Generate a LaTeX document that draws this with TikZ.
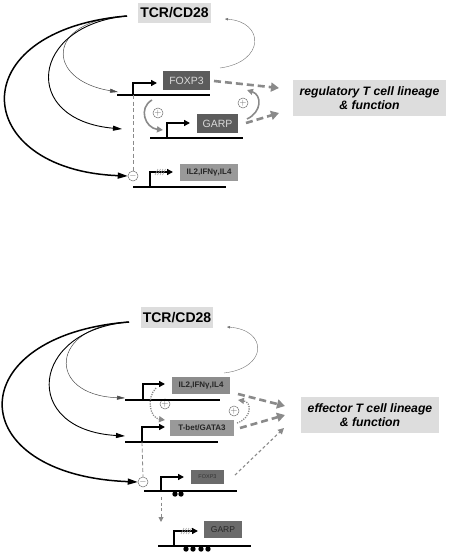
\documentclass[tikz,border=0pt]{standalone}
\usepackage{fontspec}
\setmainfont{Liberation Sans}
\usetikzlibrary{arrows.meta}
\definecolor{boxlight}{HTML}{DDDDDD}
\definecolor{boxdark}{HTML}{5C5C5C}
\definecolor{boxdim}{HTML}{6B6B6B}
\definecolor{boxmid}{HTML}{999999}
\definecolor{linegray}{HTML}{8A8A8A}
\tikzset{
  tcbox/.style={fill=boxlight, inner sep=0pt, font=\bfseries\fontsize{14}{14}\selectfont},
  fatebox/.style={fill=boxlight, inner sep=0pt, align=center, font=\bfseries\itshape\fontsize{12.2}{14}\selectfont},
  genedark/.style={fill=boxdark, text=black!15, inner sep=0pt, font=\fontsize{10.5}{10.5}\selectfont},
  genedim/.style={fill=boxdim, text=black!80, inner sep=0pt},
  genemid/.style={fill=boxmid, text=black!85, inner sep=0pt, font=\bfseries\fontsize{8}{8}\selectfont},
  dnaline/.style={line width=1.6pt, draw=black},
  promo/.style={line width=1.4pt, draw=black, -{Triangle[length=6pt,width=6pt]}},
  sigthick/.style={line width=1.5pt, draw=black, -{Triangle[length=10pt,width=6pt]}},
  sigmid/.style={line width=0.9pt, draw=black, -{Triangle[length=9pt,width=5pt]}},
  sigthin/.style={line width=0.5pt, draw=black!70, -{Triangle[length=8pt,width=4pt]}},
  loopline/.style={line width=0.4pt, draw=black!55, -{Triangle[length=3pt,width=2.5pt]}},
  fatdash/.style={line width=2.6pt, draw=linegray, dash pattern=on 7pt off 4pt, -{Triangle[length=8pt,width=9pt]}},
  finedash/.style={line width=1.1pt, draw=linegray, dash pattern=on 3pt off 2.5pt, -{Triangle[length=6pt,width=6pt]}},
  inhdash/.style={line width=0.8pt, draw=linegray, dash pattern=on 4pt off 2.5pt},
  feedarc/.style={line width=1.6pt, draw=linegray, -{Triangle[length=6pt,width=6pt]}},
  feeddot/.style={line width=1.3pt, draw=linegray, dash pattern=on 1.2pt off 1.2pt, -{Triangle[length=6pt,width=6pt]}},
  signcirc/.style={circle, draw=black!55, line width=0.5pt, text=black!60, minimum size=10pt, inner sep=0pt, font=\fontsize{9}{9}\selectfont},
  hatch/.style={line width=0.6pt, draw=black!40},
}

\begin{document}
\begin{tikzpicture}[x=1pt,y=-1pt]
\useasboundingbox (0,0) rectangle (448,554);
% regulatory T cell
\node[tcbox, minimum width=73, minimum height=20] (tcrA) at (174.5,13) {TCR/CD28};
\node[genedark, minimum width=47, minimum height=19] (foxA) at (186.5,80.5) {FOXP3};
\node[genedark, minimum width=41, minimum height=19] (garpA) at (217.5,123.5) {GARP};
\node[genemid, minimum width=58, minimum height=17] (ilA) at (209,172.5) {IL2,IFNγ,IL4};
\node[fatebox, minimum width=153, minimum height=36] (regA) at (369.5,98) {regulatory T cell lineage\\\& function};
\node[signcirc] (minA) at (133,176) {$-$};
\node[signcirc] (plusA1) at (158,113) {$+$};
\node[signcirc] (plusA2) at (243,103) {$+$};
\coordinate (tA) at (127,16);
\coordinate (pFoxA) at (133,95);
\coordinate (pGarpA) at (167,138);
\coordinate (pIlA) at (150,187);
\draw[dnaline] (117,95) -- (210,95);
\draw[dnaline] (150,138) -- (243,138);
\draw[dnaline] (133,187) -- (226,187);
\draw[promo] (pFoxA) |- ++(24,-12);
\draw[promo] (pGarpA) |- ++(23,-15);
\draw[promo] (pIlA) |- ++(23,-15);
\foreach \i in {0,2.5,...,7.5}
  \draw[hatch] (155+\i,175) -- (158+\i,169);
\draw[sigthin] (tA) .. controls (45,20) and (45,80) .. (118,92);
\draw[sigmid] (tA) .. controls (30,25) and (20,120) .. (122,129);
\draw[sigthick] (tA) .. controls (-40,30) and (-30,170) .. (minA.west);
\draw[inhdash] (pFoxA) -- (minA.north);
\draw[loopline] (220,68) .. controls (265,62) and (265,22) .. (225,19);
\draw[feedarc] (152,100) .. controls (138,108) and (145,128) .. (163,130);
\draw[feedarc] (247,119) .. controls (262,112) and (262,95) .. (247,90);
\draw[fatdash] (214,81) -- (279,88);
\draw[fatdash] (246,123) -- (279,113);
% effector T cell
\node[tcbox, minimum width=72, minimum height=21] (tcrB) at (177,317.5) {TCR/CD28};
\node[genemid, fill=black!45, minimum width=58, minimum height=17] (ilB) at (201,385.5) {IL2,IFNγ,IL4};
\node[genemid, minimum width=64, minimum height=16] (tbB) at (202,428) {T-bet/GATA3};
\node[genedim, minimum width=33, minimum height=14, font=\fontsize{5.5}{5.5}\selectfont] (foxB) at (207.5,477) {FOXP3};
\node[genedim, text=black!85, minimum width=38, minimum height=17, font=\fontsize{8.5}{8.5}\selectfont] (garpB) at (223,529.5) {GARP};
\node[fatebox, minimum width=138, minimum height=36] (effB) at (370,415) {effector T cell lineage\\\& function};
\node[signcirc] (minB) at (143,482) {$-$};
\node[signcirc] (plusB1) at (165,404) {$+$};
\node[signcirc] (plusB2) at (234,411) {$+$};
\coordinate (tB) at (129,322);
\coordinate (pIlB) at (143,400);
\coordinate (pTbB) at (142,442);
\coordinate (pFoxB) at (161,491);
\coordinate (pGarpB) at (174,546);
\draw[dnaline] (125,400) -- (220,400);
\draw[dnaline] (125,442) -- (218,442);
\draw[dnaline] (144,491) -- (237,491);
\draw[dnaline] (158,546) -- (251,546);
\draw[promo] (pIlB) |- ++(22,-16);
\draw[promo] (pTbB) |- ++(23,-15);
\draw[promo] (pFoxB) |- ++(23,-14);
\draw[promo] (pGarpB) |- ++(24,-15);
\foreach \i in {0,2.5,...,7.5}
  \draw[hatch] (181+\i,534) -- (184+\i,528);
\foreach \x in {175,181}
  \fill (\x,494) circle (2.7);
\foreach \x in {186,193,201,208}
  \fill (\x,549) circle (2.7);
\draw[sigthin] (tB) .. controls (50,325) and (45,395) .. (125,398);
\draw[sigmid] (tB) .. controls (30,330) and (20,430) .. (125,436);
\draw[sigthick] (tB) .. controls (-40,335) and (-40,475) .. (minB.west);
\draw[inhdash] (pTbB) -- (minB.north);
\draw[finedash, line width=0.9pt, -{Triangle[length=5pt,width=5pt]}] (161,497) -- (161,522);
\draw[loopline] (224,373) .. controls (268,368) and (268,330) .. (227,327);
\draw[feeddot] (156,388) .. controls (146,398) and (150,418) .. (165,420);
\draw[feeddot] (237,423) .. controls (252,418) and (252,402) .. (238,400);
\draw[fatdash] (238,394) -- (285,406);
\draw[fatdash] (240,428) -- (285,415);
\draw[finedash] (235,475) -- (284,428);
\end{tikzpicture}
\end{document}
